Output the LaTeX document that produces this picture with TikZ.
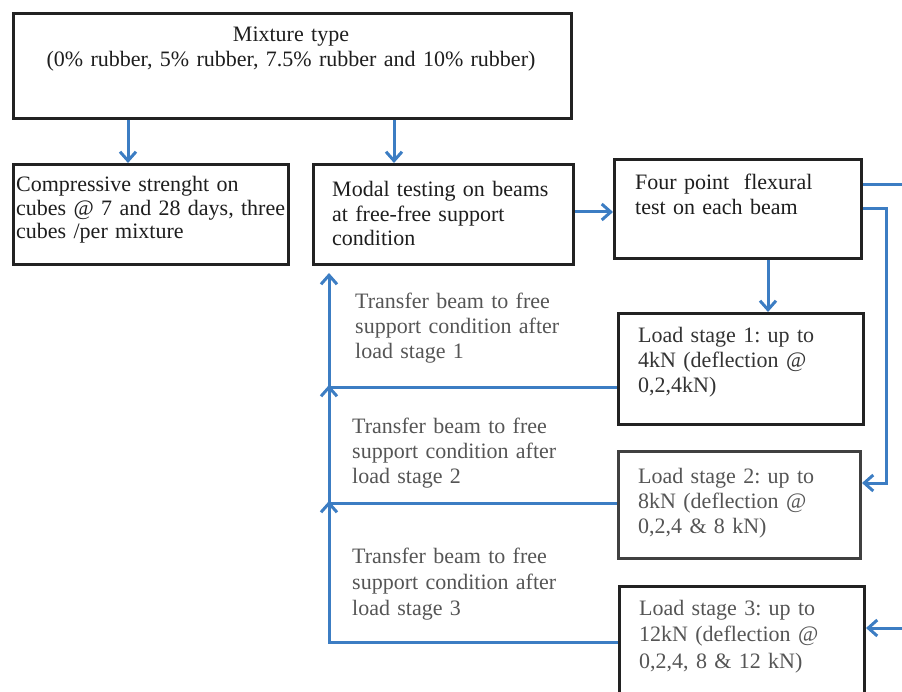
\documentclass[tikz,border=0pt]{standalone}
\usepackage{fontspec}
\setmainfont{Liberation Serif}
\usetikzlibrary{arrows.meta,calc}
\definecolor{flowblue}{HTML}{3C7DC3}
\definecolor{boxline}{HTML}{222222}
\definecolor{txtdark}{HTML}{1E1E1E}
\definecolor{txtgray}{HTML}{555555}
\frenchspacing
\begin{document}
\begin{tikzpicture}[x=1pt,y=-1pt,
  stagebox/.style={draw=boxline,line width=3pt,rectangle,anchor=north west,inner sep=0pt,fill=white},
  txt/.style={anchor=base west,inner sep=0pt,align=left,text width=330pt,text=txtdark,
    font=\fontsize{22}{24.5}\selectfont},
  graytxt/.style={txt,text=txtgray},
  arr/.style={draw=flowblue,line width=3pt,-{Straight Barb[length=9pt,width=16pt]}},
  ln/.style={draw=flowblue,line width=3pt}]
\useasboundingbox (0,0) rectangle (902,692);

% boxes
\node[stagebox,minimum width=558pt,minimum height=105pt] (mix)   at (12,12)  {};
\node[stagebox,minimum width=275pt,minimum height=100pt] (comp)  at (12,163) {};
\node[stagebox,minimum width=260pt,minimum height=100pt] (modal) at (312,163) {};
\node[stagebox,minimum width=247pt,minimum height=99pt]  (four)  at (613,158) {};
\node[stagebox,minimum width=245pt,minimum height=111pt] (ls1)   at (617,312) {};
\node[stagebox,minimum width=242pt,minimum height=107pt,draw=black!75] (ls2) at (617,450) {};
\node[stagebox,minimum width=245pt,minimum height=108pt] (ls3)   at (618,585) {};

% texts
\node[txt,anchor=base,align=center,text width=540pt] (mixT) at (291,42)
  {Mixture type\\(0\% rubber, 5\% rubber, 7.5\% rubber and 10\% rubber)};
\node[txt,font=\fontsize{22}{23.5}\selectfont] (compT) at (16,192)
  {Compressive strenght on\\cubes @ 7 and 28 days, three\\cubes /per mixture};
\node[txt] (modalT) at (332,197)
  {Modal testing on beams\\at free-free support\\condition};
\node[txt] (fourT) at (635,190)
  {Four point~ flexural\\test on each beam};
\node[txt,text=black!80,font=\fontsize{22}{25}\selectfont] (ls1T) at (638,343)
  {Load stage 1: up to\\4kN (deflection @\\0,2,4kN)};
\node[graytxt,font=\fontsize{22}{25}\selectfont] (ls2T) at (638,483)
  {Load stage 2: up to\\8kN (deflection @\\0,2,4 \& 8 kN)};
\node[graytxt,font=\fontsize{22}{26.5}\selectfont] (ls3T) at (639,615)
  {Load stage 3: up to\\12kN (deflection @\\0,2,4, 8 \& 12 kN)};
\node[graytxt,font=\fontsize{22}{25}\selectfont] (lab1) at (355,309)
  {Transfer beam to free\\support condition after\\load stage 1};
\node[graytxt,font=\fontsize{22}{25}\selectfont] (lab2) at (352,433)
  {Transfer beam to free\\support condition after\\load stage 2};
\node[graytxt,font=\fontsize{22}{26}\selectfont] (lab3) at (352,563)
  {Transfer beam to free\\support condition after\\load stage 3};

% helper coordinates
\coordinate (c1) at (128,0);
\coordinate (c2) at (394,0);
\coordinate (yMF) at (0,212);
\coordinate (outR) at (906,185);
\coordinate (bendR) at (886,209);
\coordinate (y4) at (0,483);
\coordinate (inR) at (906,628);
\coordinate (xL) at (329,0);
\coordinate (xD) at (768,0);
\coordinate (y1) at (0,387);
\coordinate (y2) at (0,503);
\coordinate (y3) at (0,642);

% connectors
\draw[arr] (mix.south -| c1) -- (comp.north -| c1);
\draw[arr] (mix.south -| c2) -- (modal.north -| c2);
\draw[arr] (modal.east |- yMF) -- (four.west |- yMF);
\draw[ln] (four.east |- outR) -- (outR);
\draw[arr] (four.east |- bendR) -- (bendR) |- (ls2.east |- y4);
\draw[arr] (four.south -| xD) -- (ls1.north -| xD);
\draw[arr] (inR) -- (ls3.east |- inR);
\draw[arr,shorten >=7pt] (ls1.west |- y1) -| (modal.south -| xL);
\draw[arr,shorten >=-2pt] (ls2.west |- y2) -| (xL |- y1);
\draw[arr,shorten >=-2pt] (ls3.west |- y3) -| (xL |- y2);
\end{tikzpicture}
\end{document}
